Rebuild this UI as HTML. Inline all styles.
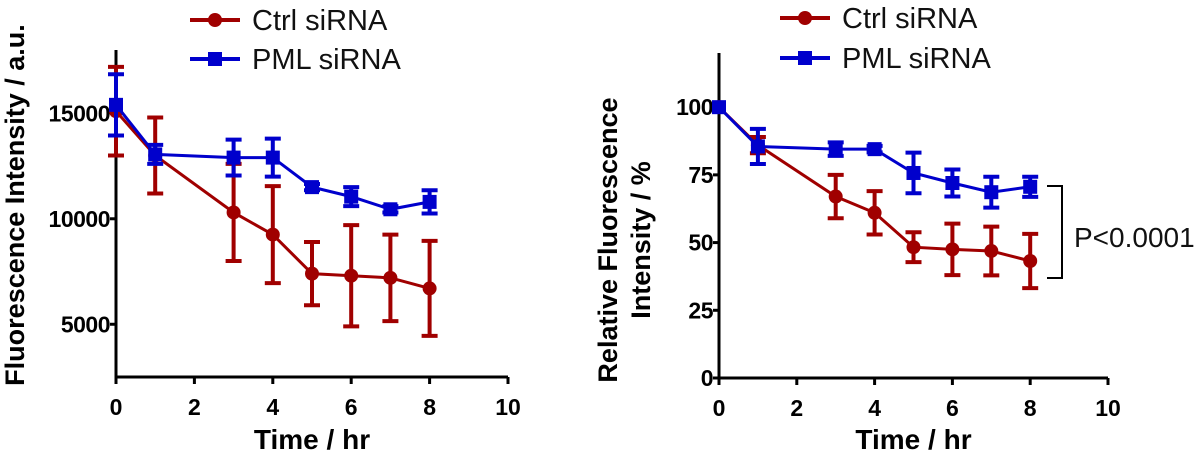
<!DOCTYPE html>
<html><head><meta charset="utf-8"><style>
body{margin:0;background:#fff}
svg{display:block;font-family:"Liberation Sans",Arial,sans-serif}
</style></head><body>
<svg id="c" width="1200" height="454" viewBox="0 0 1200 454"></svg>
<script>
const times=[0,1,3,4,5,6,7,8];
const ctrlAbs=[15100,13000,10300,9250,7400,7300,7200,6700];
const ctrlAbsErr=[2100,1800,2300,2300,1500,2400,2050,2250];
const pmlAbs=[15400,13050,12900,12900,11500,11050,10450,10800];
const pmlAbsErr=[1450,450,850,900,150,450,150,550];
const ctrlRel=[100,86,67,61,48.3,47.5,46.9,43.2];
const ctrlRelErr=[0,3,8,8,5.5,9.5,9,10];
const pmlRel=[100,85.5,84.5,84.5,75.7,72,68.6,70.6];
const pmlRelErr=[0,6.5,2.5,1.2,7.5,5,5.7,3.7];
const xTicks=[0,2,4,6,8,10];
const yTicksAbs=[5000,10000,15000];
const yTicksRel=[0,25,50,75,100];

const svg=document.getElementById('c');
const NS='http://www.w3.org/2000/svg';
function mk(tag,attrs,parent){const e=document.createElementNS(NS,tag);for(const k in attrs)e.setAttribute(k,attrs[k]);(parent||svg).appendChild(e);return e;}
const RED='#a00000',BLUE='#0000cc';

function panel(o){
  const g=mk('g',{});
  
  
  const X=v=>o.x0+(v-0)/(10-0)*(o.x1-o.x0);
  const Y=v=>o.yb+(v-o.ymin)/(o.ymax-o.ymin)*(o.yt-o.yb);
  const ax=mk('path',{d:`M${o.x0} ${o.yt}V${o.yb}H${o.x1}`,stroke:'#000','stroke-width':3,fill:'none'},g);
  
  
  xTicks.forEach(t=>{
    mk('line',{x1:X(t),x2:X(t),y1:o.yb,y2:o.yb+7,stroke:'#000','stroke-width':3},g);
    const tx=mk('text',{x:X(t),y:o.yb+38,'text-anchor':'middle','font-size':23,'font-weight':'bold'},g);
    tx.textContent=t;
    
    
  });
  o.yTicks.forEach(t=>{
    mk('line',{x1:o.x0-6,x2:o.x0,y1:Y(t),y2:Y(t),stroke:'#000','stroke-width':3},g);
    const tx=mk('text',{x:o.x0-6,y:Y(t)+8,'text-anchor':'end','font-size':23,'font-weight':'bold','letter-spacing':'-0.5'},g);
    tx.textContent=t;
    
    
  });
  const xt=mk('text',{x:(o.x0+o.x1)/2,y:449,'text-anchor':'middle','font-size':28,'font-weight':'bold'},g);
  xt.textContent='Time / hr';
  
  
  o.ytitle.forEach((s,i)=>{
    const yt=mk('text',{transform:`translate(${o.ytx[i]},${o.yty}) rotate(-90)`,'text-anchor':'middle','font-size':o.ytfs,'font-weight':'bold'},g);
    yt.textContent=s;
    
    
  });
  [[o.ctrl,o.ctrlE,RED,'ctrl'],[o.pml,o.pmlE,BLUE,'pml']].forEach(([vals,errs,col,nm])=>{
    const sg=mk('g',{},g);
    
    
    const pl=mk('polyline',{points:times.map((t,i)=>X(t)+','+Y(vals[i])).join(' '),fill:'none',stroke:col,'stroke-width':3},sg);
    
    
    times.forEach((t,i)=>{
      const e=errs[i];
      if(e>0){
        const x=X(t),a=Y(vals[i]+e),b=Y(vals[i]-e);
        const eb=mk('path',{d:`M${x} ${a}V${b}M${x-8} ${a}H${x+8}M${x-8} ${b}H${x+8}`,stroke:col,'stroke-width':4,fill:'none'},sg);
        
        
      }
      let m;
      if(nm==='ctrl') m=mk('circle',{cx:X(t),cy:Y(vals[i]),r:7,fill:col},sg);
      else m=mk('rect',{x:X(t)-7,y:Y(vals[i])-7,width:14,height:14,fill:col},sg);
      
      
    });
  });
  [[RED,'Ctrl siRNA',o.ly[0],'ctrl'],[BLUE,'PML siRNA',o.ly[1],'pml']].forEach(([col,lab,y,nm])=>{
    const lg=mk('g',{},g);
    
    
    mk('line',{x1:o.lx,x2:o.lx+50,y1:y,y2:y,stroke:col,'stroke-width':4},lg);
    if(nm==='ctrl') mk('circle',{cx:o.lx+25,cy:y,r:7,fill:col},lg);
    else mk('rect',{x:o.lx+18,y:y-7,width:14,height:14,fill:col},lg);
    const t=mk('text',{x:o.lx+62,y:y+10,'font-size':29,fill:'#111'},lg);
    t.textContent=lab;
  });
  return {X,Y};
}

panel({name:'absolute-chart',x0:116,x1:508,yb:377,yt:50,ymin:2500,ymax:18000,yTicks:yTicksAbs,
  ctrl:ctrlAbs,ctrlE:ctrlAbsErr,pml:pmlAbs,pmlE:pmlAbsErr,ytitle:['Fluorescence Intensity / a.u.'],ytx:[24],yty:205,ytfs:27,lx:190,ly:[20,59]});
panel({name:'relative-chart',x0:719,x1:1108,yb:378,yt:53,ymin:0,ymax:120,yTicks:yTicksRel,
  ctrl:ctrlRel,ctrlE:ctrlRelErr,pml:pmlRel,pmlE:pmlRelErr,ytitle:['Relative Fluorescence','Intensity / %'],ytx:[617,650],yty:240,ytfs:27,lx:780,ly:[18,58]});

const br=mk('path',{d:'M1047 186H1062V278H1047',stroke:'#000','stroke-width':2,fill:'none'});


const pt=mk('text',{x:1074,y:247,'font-size':28,fill:'#111'});
pt.textContent='P<0.0001';


</script>
</body></html>
